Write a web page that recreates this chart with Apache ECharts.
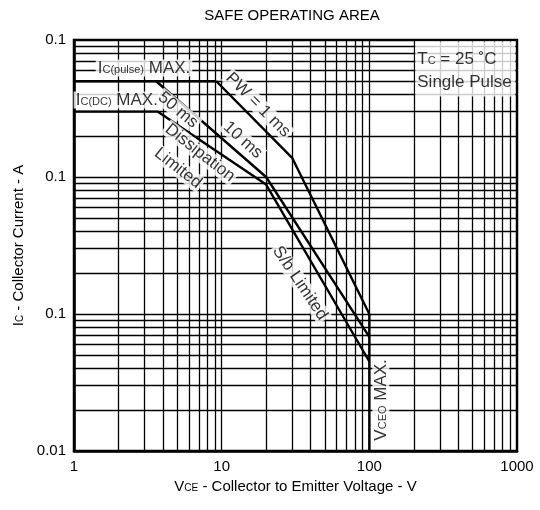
<!DOCTYPE html>
<html>
<head>
<meta charset="utf-8">
<script src="https://cdn.jsdelivr.net/npm/echarts@6/dist/echarts.min.js"></script>
<style>
  html, body { margin: 0; padding: 0; background: #fff; }
  #chart { width: 540px; height: 510px; }
</style>
</head>
<body>
<div id="chart"></div>
<script>
// Tick labels on the two log axes
const xTickLabels = ['1', '10', '100', '1000'];
const yTickLabels = ['0.01', '0.1', '0.1', '0.1'];

// Boundary curves as [V_CE (V), I_C (A)] points
const pulseMax  = [[1, 5], [9.2, 5]];
const pw1ms     = [[9.2, 5], [30, 1.38], [100, 0.1]];
const pw10ms    = [[3.6, 5], [20, 1.0], [100, 0.068]];
const dcLimit   = [[1, 3], [3.7, 3], [20, 0.88], [100, 0.045]];
const vceoMax   = [[100, 0.1], [100, 0.01]];

const FONT = '"Liberation Sans", Arial, sans-serif';

// log grid: 1..9 in every decade
const xGrid = [], yGrid = [];
for (let k = 0; k < 3; k++) for (let d = 1; d <= 9; d++) xGrid.push(d * Math.pow(10, k));
for (let k = -2; k < 1; k++) for (let d = 1; d <= 9; d++) yGrid.push(+(d * Math.pow(10, k)).toPrecision(3));

const richText = (size, sub) => ({
  m: { fontSize: size, fontFamily: FONT, color: '#000', verticalAlign: 'bottom' },
  s: { fontSize: sub, fontFamily: FONT, color: '#000', verticalAlign: 'bottom', padding: [0, 0, 1, 0] }
});

// annotations: anchor in data space, text, rotation
const notes = [
  { at: [2.98, 6.25], text: '{m|I}{s|C(pulse)}{m| MAX.}', rotate: 0 },
  { at: [1.95, 3.65], text: '{m|I}{s|C(DC)}{m| MAX.}', rotate: 0 },
  { at: [5.06, 3.08], text: '{m|50 ms}', rotate: -40 },
  { at: [17.6, 3.36], text: '{m|PW = 1 ms}', rotate: -45 },
  { at: [13.9, 1.86], text: '{m|10 ms}', rotate: -42 },
  { at: [7.13, 1.5],  text: '{m|Dissipation}', rotate: -38 },
  { at: [5.06, 1.16], text: '{m|Limited}', rotate: -38 },
  { at: [33.9, 0.168], text: '{m|S/b Limited}', rotate: -56 },
  { at: [119.7, 0.0236], text: '{m|V}{s|CEO}{m| MAX.}', rotate: 90 }
];

const lineSeries = (name, data) => ({
  name, type: 'line', data, symbol: 'none', z: 5, silent: true,
  lineStyle: { color: '#000', width: 2.4 }, animation: false
});

const chart = echarts.init(document.getElementById('chart'), null, { renderer: 'canvas' });

chart.setOption({
  animation: false,
  backgroundColor: '#fff',
  title: {
    text: 'SAFE OPERATING AREA',
    left: 287, top: 3, textAlign: 'center',
    textStyle: { fontFamily: FONT, fontSize: 15, fontWeight: 'normal', color: '#000' }
  },
  grid: { left: 74, right: 23, top: 40, bottom: 59, show: true, borderColor: '#000', borderWidth: 2.5, backgroundColor: 'transparent' },
  xAxis: {
    type: 'log', logBase: 10, min: 1, max: 1000,
    axisLine: { show: true, lineStyle: { color: '#000', width: 2.5 } },
    axisTick: { show: false },
    splitLine: { show: false },
    axisLabel: {
      color: '#000', fontFamily: FONT, fontSize: 15, margin: 8,
      formatter: v => xTickLabels[Math.round(Math.log10(v))]
    },
    name: '{m|V}{s|CE}{m| - Collector to Emitter Voltage - V}',
    nameLocation: 'middle', nameGap: 24,
    nameTextStyle: { rich: richText(15, 10) }
  },
  yAxis: {
    type: 'log', logBase: 10, min: 0.01, max: 10,
    axisLine: { show: true, lineStyle: { color: '#000', width: 2.5 } },
    axisTick: { show: false },
    splitLine: { show: false },
    axisLabel: {
      color: '#000', fontFamily: FONT, fontSize: 15, margin: 8,
      formatter: v => yTickLabels[Math.round(Math.log10(v)) + 2]
    },
    name: '{m|I}{s|C}{m| - Collector Current - A}',
    nameLocation: 'middle', nameGap: 47, nameRotate: 90,
    nameTextStyle: { rich: richText(15, 10) }
  },
  series: [
    {
      // log grid lines
      type: 'line', data: [], silent: true, z: 1,
      markLine: {
        silent: true, symbol: ['none', 'none'], animation: false,
        label: { show: false },
        lineStyle: { color: '#000', width: 1.3, type: 'solid' },
        emphasis: { disabled: true },
        data: xGrid.slice(1).map(v => ({ xAxis: v })).concat(yGrid.slice(1).map(v => ({ yAxis: v })))
      }
    },
    lineSeries('IC(pulse) MAX', pulseMax),
    lineSeries('PW = 1 ms', pw1ms),
    lineSeries('10 ms', pw10ms),
    lineSeries('DC', dcLimit),
    lineSeries('VCEO MAX', vceoMax),
    {
      // text annotations
      type: 'scatter', z: 10, silent: true, symbolSize: 1,
      itemStyle: { color: 'rgba(0,0,0,0)' },
      data: notes.map(n => ({
        value: n.at,
        label: {
          show: true, position: 'inside', rotate: n.rotate,
          color: '#000', textBorderWidth: 0,
          formatter: n.text, rich: richText(17, 11),
          backgroundColor: '#fff', padding: [0, 2, 0, 2]
        }
      }))
    },
    {
      // test condition box
      type: 'scatter', z: 10, silent: true, symbolSize: 1,
      itemStyle: { color: 'rgba(0,0,0,0)' },
      data: [{
        value: [200, 10],
        label: {
          show: true, position: [2, 2], align: 'left', verticalAlign: 'top',
          color: '#000', textBorderWidth: 0,
          formatter: '{m|T}{s|C}{m| = 25 ˚C}\n{m|Single Pulse}',
          rich: {
            m: { fontSize: 17, fontFamily: FONT, color: '#000', verticalAlign: 'bottom', lineHeight: 23 },
            s: { fontSize: 11, fontFamily: FONT, color: '#000', verticalAlign: 'bottom', lineHeight: 23, padding: [0, 0, 1, 0] }
          },
          backgroundColor: '#fff', padding: [3, 4, 6, 2], width: 94
        }
      }]
    }
  ]
});
</script>
</body>
</html>
